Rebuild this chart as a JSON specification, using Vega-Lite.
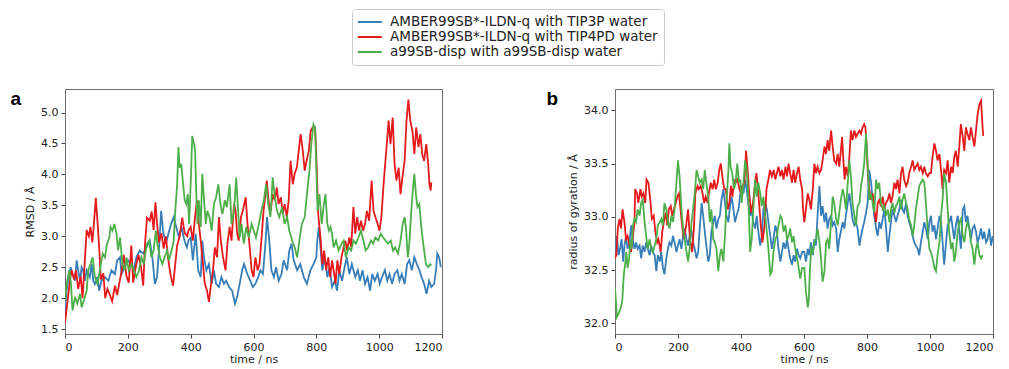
{
"$schema":"https://vega.github.io/schema/vega-lite/v6.json",
"padding":{"left":10,"top":8,"right":5,"bottom":0},
"config":{"font":"DejaVu Sans","view":{"stroke":"#6e6e6e","strokeWidth":1},
"axis":{"grid":false,"domainColor":"#6e6e6e","tickColor":"#444","tickSize":4,"labelFontSize":11,"titleFontSize":11,"labelColor":"#222","titleColor":"#222","titleFontWeight":"normal","labelFont":"DejaVu Sans","titleFont":"DejaVu Sans","labelPadding":3}},
"datasets":{
"rmsd":[
{"s":"T3","t":0,"v":1.80},{"s":"T3","t":5,"v":2.12},{"s":"T3","t":11,"v":2.34},{"s":"T3","t":18,"v":2.50},{"s":"T3","t":24,"v":2.39},{"s":"T3","t":32,"v":2.28},{"s":"T3","t":37,"v":2.61},{"s":"T3","t":42,"v":2.45},{"s":"T3","t":48,"v":2.28},{"s":"T3","t":53,"v":2.50},{"s":"T3","t":58,"v":2.45},{"s":"T3","t":63,"v":2.28},{"s":"T3","t":69,"v":2.45},{"s":"T3","t":79,"v":2.34},{"s":"T3","t":85,"v":2.55},{"s":"T3","t":90,"v":2.28},{"s":"T3","t":95,"v":2.23},{"s":"T3","t":103,"v":2.34},{"s":"T3","t":109,"v":2.12},{"s":"T3","t":116,"v":2.28},{"s":"T3","t":127,"v":2.34},{"s":"T3","t":138,"v":2.28},{"s":"T3","t":148,"v":2.45},{"s":"T3","t":159,"v":2.39},{"s":"T3","t":166,"v":2.61},{"s":"T3","t":175,"v":2.66},{"s":"T3","t":180,"v":2.39},{"s":"T3","t":190,"v":2.50},{"s":"T3","t":201,"v":2.61},{"s":"T3","t":212,"v":2.55},{"s":"T3","t":219,"v":2.45},{"s":"T3","t":227,"v":2.66},{"s":"T3","t":238,"v":2.77},{"s":"T3","t":249,"v":2.72},{"s":"T3","t":259,"v":2.82},{"s":"T3","t":270,"v":2.93},{"s":"T3","t":278,"v":2.66},{"s":"T3","t":286,"v":2.23},{"s":"T3","t":293,"v":2.34},{"s":"T3","t":299,"v":2.77},{"s":"T3","t":306,"v":3.41},{"s":"T3","t":312,"v":3.09},{"s":"T3","t":321,"v":2.88},{"s":"T3","t":329,"v":3.04},{"s":"T3","t":338,"v":3.20},{"s":"T3","t":346,"v":3.31},{"s":"T3","t":354,"v":3.15},{"s":"T3","t":363,"v":2.98},{"s":"T3","t":371,"v":3.15},{"s":"T3","t":380,"v":2.93},{"s":"T3","t":388,"v":2.82},{"s":"T3","t":393,"v":2.93},{"s":"T3","t":400,"v":2.98},{"s":"T3","t":407,"v":2.61},{"s":"T3","t":416,"v":3.04},{"s":"T3","t":424,"v":2.45},{"s":"T3","t":432,"v":2.34},{"s":"T3","t":437,"v":2.93},{"s":"T3","t":442,"v":2.66},{"s":"T3","t":450,"v":2.45},{"s":"T3","t":458,"v":2.55},{"s":"T3","t":467,"v":2.23},{"s":"T3","t":474,"v":2.45},{"s":"T3","t":481,"v":2.23},{"s":"T3","t":490,"v":2.18},{"s":"T3","t":498,"v":2.34},{"s":"T3","t":506,"v":2.23},{"s":"T3","t":513,"v":2.28},{"s":"T3","t":522,"v":2.18},{"s":"T3","t":532,"v":2.12},{"s":"T3","t":541,"v":1.91},{"s":"T3","t":548,"v":2.02},{"s":"T3","t":556,"v":2.23},{"s":"T3","t":564,"v":2.45},{"s":"T3","t":570,"v":2.55},{"s":"T3","t":580,"v":2.39},{"s":"T3","t":590,"v":2.28},{"s":"T3","t":598,"v":2.18},{"s":"T3","t":606,"v":2.23},{"s":"T3","t":615,"v":2.34},{"s":"T3","t":622,"v":2.45},{"s":"T3","t":630,"v":2.39},{"s":"T3","t":638,"v":2.88},{"s":"T3","t":643,"v":3.31},{"s":"T3","t":651,"v":2.88},{"s":"T3","t":657,"v":2.45},{"s":"T3","t":665,"v":2.34},{"s":"T3","t":672,"v":2.50},{"s":"T3","t":680,"v":2.28},{"s":"T3","t":689,"v":2.39},{"s":"T3","t":696,"v":2.61},{"s":"T3","t":707,"v":2.45},{"s":"T3","t":714,"v":2.77},{"s":"T3","t":721,"v":2.88},{"s":"T3","t":728,"v":2.61},{"s":"T3","t":739,"v":2.45},{"s":"T3","t":749,"v":2.55},{"s":"T3","t":760,"v":2.34},{"s":"T3","t":770,"v":2.23},{"s":"T3","t":781,"v":2.45},{"s":"T3","t":791,"v":2.55},{"s":"T3","t":800,"v":2.66},{"s":"T3","t":803,"v":2.93},{"s":"T3","t":808,"v":3.15},{"s":"T3","t":814,"v":2.77},{"s":"T3","t":819,"v":2.45},{"s":"T3","t":827,"v":2.66},{"s":"T3","t":835,"v":2.34},{"s":"T3","t":842,"v":2.50},{"s":"T3","t":850,"v":2.18},{"s":"T3","t":859,"v":2.28},{"s":"T3","t":866,"v":2.12},{"s":"T3","t":873,"v":2.45},{"s":"T3","t":882,"v":2.28},{"s":"T3","t":890,"v":2.50},{"s":"T3","t":897,"v":2.66},{"s":"T3","t":905,"v":2.39},{"s":"T3","t":913,"v":2.55},{"s":"T3","t":924,"v":2.34},{"s":"T3","t":932,"v":2.45},{"s":"T3","t":939,"v":2.28},{"s":"T3","t":947,"v":2.45},{"s":"T3","t":955,"v":2.23},{"s":"T3","t":963,"v":2.34},{"s":"T3","t":971,"v":2.12},{"s":"T3","t":978,"v":2.39},{"s":"T3","t":986,"v":2.28},{"s":"T3","t":995,"v":2.39},{"s":"T3","t":1002,"v":2.23},{"s":"T3","t":1009,"v":2.34},{"s":"T3","t":1018,"v":2.45},{"s":"T3","t":1026,"v":2.28},{"s":"T3","t":1033,"v":2.39},{"s":"T3","t":1041,"v":2.23},{"s":"T3","t":1049,"v":2.39},{"s":"T3","t":1058,"v":2.45},{"s":"T3","t":1065,"v":2.28},{"s":"T3","t":1072,"v":2.39},{"s":"T3","t":1081,"v":2.23},{"s":"T3","t":1089,"v":2.55},{"s":"T3","t":1096,"v":2.61},{"s":"T3","t":1104,"v":2.45},{"s":"T3","t":1112,"v":2.66},{"s":"T3","t":1120,"v":2.55},{"s":"T3","t":1128,"v":2.45},{"s":"T3","t":1135,"v":2.34},{"s":"T3","t":1143,"v":2.23},{"s":"T3","t":1151,"v":2.07},{"s":"T3","t":1159,"v":2.28},{"s":"T3","t":1166,"v":2.18},{"s":"T3","t":1175,"v":2.23},{"s":"T3","t":1181,"v":2.45},{"s":"T3","t":1185,"v":2.72},{"s":"T3","t":1191,"v":2.66},{"s":"T3","t":1196,"v":2.50},
{"s":"T4","t":0,"v":1.60},{"s":"T4","t":7,"v":1.90},{"s":"T4","t":16,"v":2.30},{"s":"T4","t":21,"v":2.45},{"s":"T4","t":29,"v":2.30},{"s":"T4","t":35,"v":2.45},{"s":"T4","t":42,"v":2.15},{"s":"T4","t":50,"v":2.35},{"s":"T4","t":56,"v":2.00},{"s":"T4","t":63,"v":2.60},{"s":"T4","t":69,"v":3.10},{"s":"T4","t":76,"v":3.00},{"s":"T4","t":81,"v":3.15},{"s":"T4","t":87,"v":2.90},{"s":"T4","t":92,"v":3.20},{"s":"T4","t":98,"v":3.62},{"s":"T4","t":104,"v":3.20},{"s":"T4","t":109,"v":2.80},{"s":"T4","t":114,"v":2.30},{"s":"T4","t":122,"v":2.40},{"s":"T4","t":128,"v":2.00},{"s":"T4","t":135,"v":2.15},{"s":"T4","t":143,"v":2.05},{"s":"T4","t":150,"v":1.95},{"s":"T4","t":159,"v":2.20},{"s":"T4","t":166,"v":2.05},{"s":"T4","t":175,"v":2.30},{"s":"T4","t":181,"v":2.45},{"s":"T4","t":187,"v":2.70},{"s":"T4","t":196,"v":2.35},{"s":"T4","t":203,"v":2.25},{"s":"T4","t":211,"v":2.85},{"s":"T4","t":217,"v":2.25},{"s":"T4","t":225,"v":2.50},{"s":"T4","t":234,"v":2.70},{"s":"T4","t":242,"v":2.50},{"s":"T4","t":249,"v":2.20},{"s":"T4","t":255,"v":2.90},{"s":"T4","t":261,"v":3.30},{"s":"T4","t":270,"v":3.25},{"s":"T4","t":276,"v":3.40},{"s":"T4","t":282,"v":3.10},{"s":"T4","t":288,"v":3.55},{"s":"T4","t":293,"v":3.20},{"s":"T4","t":299,"v":2.90},{"s":"T4","t":307,"v":3.05},{"s":"T4","t":314,"v":2.80},{"s":"T4","t":321,"v":3.00},{"s":"T4","t":328,"v":2.65},{"s":"T4","t":335,"v":2.40},{"s":"T4","t":344,"v":2.20},{"s":"T4","t":350,"v":2.50},{"s":"T4","t":357,"v":2.85},{"s":"T4","t":365,"v":3.00},{"s":"T4","t":373,"v":3.30},{"s":"T4","t":381,"v":3.05},{"s":"T4","t":389,"v":3.00},{"s":"T4","t":393,"v":3.09},{"s":"T4","t":400,"v":3.15},{"s":"T4","t":407,"v":2.93},{"s":"T4","t":414,"v":3.31},{"s":"T4","t":420,"v":3.58},{"s":"T4","t":426,"v":3.20},{"s":"T4","t":433,"v":2.88},{"s":"T4","t":439,"v":2.55},{"s":"T4","t":445,"v":2.23},{"s":"T4","t":452,"v":2.12},{"s":"T4","t":458,"v":1.94},{"s":"T4","t":465,"v":2.23},{"s":"T4","t":471,"v":2.45},{"s":"T4","t":477,"v":2.82},{"s":"T4","t":484,"v":2.66},{"s":"T4","t":490,"v":3.31},{"s":"T4","t":496,"v":2.93},{"s":"T4","t":503,"v":2.66},{"s":"T4","t":511,"v":2.45},{"s":"T4","t":517,"v":2.88},{"s":"T4","t":524,"v":3.15},{"s":"T4","t":530,"v":2.93},{"s":"T4","t":538,"v":3.52},{"s":"T4","t":543,"v":3.41},{"s":"T4","t":548,"v":3.04},{"s":"T4","t":553,"v":2.93},{"s":"T4","t":560,"v":3.31},{"s":"T4","t":566,"v":3.41},{"s":"T4","t":575,"v":3.63},{"s":"T4","t":581,"v":3.20},{"s":"T4","t":587,"v":2.88},{"s":"T4","t":594,"v":2.45},{"s":"T4","t":600,"v":2.34},{"s":"T4","t":606,"v":2.66},{"s":"T4","t":613,"v":2.45},{"s":"T4","t":619,"v":2.55},{"s":"T4","t":625,"v":2.93},{"s":"T4","t":632,"v":3.41},{"s":"T4","t":638,"v":3.68},{"s":"T4","t":642,"v":3.90},{"s":"T4","t":649,"v":3.52},{"s":"T4","t":655,"v":3.41},{"s":"T4","t":661,"v":3.68},{"s":"T4","t":668,"v":3.58},{"s":"T4","t":674,"v":3.79},{"s":"T4","t":680,"v":3.52},{"s":"T4","t":687,"v":3.63},{"s":"T4","t":693,"v":3.36},{"s":"T4","t":699,"v":3.52},{"s":"T4","t":706,"v":3.31},{"s":"T4","t":712,"v":3.58},{"s":"T4","t":718,"v":4.22},{"s":"T4","t":725,"v":3.84},{"s":"T4","t":731,"v":4.01},{"s":"T4","t":738,"v":4.11},{"s":"T4","t":744,"v":4.38},{"s":"T4","t":750,"v":4.65},{"s":"T4","t":757,"v":4.38},{"s":"T4","t":763,"v":4.06},{"s":"T4","t":769,"v":4.22},{"s":"T4","t":776,"v":4.38},{"s":"T4","t":782,"v":4.70},{"s":"T4","t":788,"v":4.76},{"s":"T4","t":796,"v":4.76},{"s":"T4","t":800,"v":4.27},{"s":"T4","t":806,"v":3.36},{"s":"T4","t":814,"v":2.93},{"s":"T4","t":819,"v":2.55},{"s":"T4","t":825,"v":2.77},{"s":"T4","t":831,"v":2.45},{"s":"T4","t":838,"v":2.66},{"s":"T4","t":844,"v":2.34},{"s":"T4","t":850,"v":2.61},{"s":"T4","t":857,"v":2.39},{"s":"T4","t":861,"v":2.23},{"s":"T4","t":867,"v":2.61},{"s":"T4","t":873,"v":2.39},{"s":"T4","t":880,"v":2.66},{"s":"T4","t":887,"v":2.82},{"s":"T4","t":892,"v":2.93},{"s":"T4","t":898,"v":2.77},{"s":"T4","t":905,"v":2.98},{"s":"T4","t":911,"v":2.82},{"s":"T4","t":918,"v":3.47},{"s":"T4","t":924,"v":3.04},{"s":"T4","t":930,"v":3.31},{"s":"T4","t":936,"v":3.09},{"s":"T4","t":942,"v":3.25},{"s":"T4","t":949,"v":3.09},{"s":"T4","t":955,"v":3.20},{"s":"T4","t":961,"v":3.41},{"s":"T4","t":968,"v":3.25},{"s":"T4","t":976,"v":3.90},{"s":"T4","t":982,"v":3.41},{"s":"T4","t":988,"v":3.31},{"s":"T4","t":995,"v":3.20},{"s":"T4","t":1001,"v":3.09},{"s":"T4","t":1007,"v":3.31},{"s":"T4","t":1014,"v":3.84},{"s":"T4","t":1020,"v":4.22},{"s":"T4","t":1026,"v":4.60},{"s":"T4","t":1030,"v":4.87},{"s":"T4","t":1036,"v":4.49},{"s":"T4","t":1043,"v":4.92},{"s":"T4","t":1049,"v":4.17},{"s":"T4","t":1055,"v":3.90},{"s":"T4","t":1062,"v":4.11},{"s":"T4","t":1068,"v":3.68},{"s":"T4","t":1074,"v":3.95},{"s":"T4","t":1081,"v":4.22},{"s":"T4","t":1087,"v":4.87},{"s":"T4","t":1093,"v":5.21},{"s":"T4","t":1099,"v":4.87},{"s":"T4","t":1106,"v":4.70},{"s":"T4","t":1112,"v":4.33},{"s":"T4","t":1118,"v":4.76},{"s":"T4","t":1125,"v":4.44},{"s":"T4","t":1131,"v":4.65},{"s":"T4","t":1137,"v":4.33},{"s":"T4","t":1143,"v":4.22},{"s":"T4","t":1150,"v":4.49},{"s":"T4","t":1156,"v":4.17},{"s":"T4","t":1160,"v":3.84},{"s":"T4","t":1164,"v":3.74},{"s":"T4","t":1166,"v":3.87},
{"s":"D","t":0,"v":1.96},{"s":"D","t":5,"v":2.23},{"s":"D","t":14,"v":2.45},{"s":"D","t":19,"v":2.23},{"s":"D","t":24,"v":1.80},{"s":"D","t":32,"v":2.02},{"s":"D","t":39,"v":1.91},{"s":"D","t":48,"v":2.07},{"s":"D","t":53,"v":1.85},{"s":"D","t":60,"v":1.96},{"s":"D","t":69,"v":2.12},{"s":"D","t":74,"v":2.45},{"s":"D","t":81,"v":2.55},{"s":"D","t":88,"v":2.66},{"s":"D","t":95,"v":2.34},{"s":"D","t":103,"v":2.23},{"s":"D","t":111,"v":2.45},{"s":"D","t":120,"v":2.72},{"s":"D","t":127,"v":2.66},{"s":"D","t":134,"v":2.88},{"s":"D","t":141,"v":2.98},{"s":"D","t":145,"v":3.15},{"s":"D","t":151,"v":3.09},{"s":"D","t":157,"v":3.20},{"s":"D","t":164,"v":3.04},{"s":"D","t":169,"v":2.77},{"s":"D","t":175,"v":2.98},{"s":"D","t":183,"v":2.55},{"s":"D","t":190,"v":2.45},{"s":"D","t":196,"v":2.66},{"s":"D","t":203,"v":2.45},{"s":"D","t":212,"v":2.55},{"s":"D","t":219,"v":2.45},{"s":"D","t":227,"v":2.34},{"s":"D","t":236,"v":2.45},{"s":"D","t":243,"v":2.66},{"s":"D","t":251,"v":2.55},{"s":"D","t":257,"v":2.77},{"s":"D","t":261,"v":2.88},{"s":"D","t":268,"v":2.93},{"s":"D","t":275,"v":2.66},{"s":"D","t":282,"v":2.77},{"s":"D","t":289,"v":3.09},{"s":"D","t":294,"v":2.88},{"s":"D","t":302,"v":2.66},{"s":"D","t":310,"v":2.55},{"s":"D","t":317,"v":2.66},{"s":"D","t":325,"v":2.77},{"s":"D","t":331,"v":2.61},{"s":"D","t":339,"v":2.77},{"s":"D","t":346,"v":2.93},{"s":"D","t":351,"v":3.41},{"s":"D","t":357,"v":3.84},{"s":"D","t":361,"v":4.44},{"s":"D","t":365,"v":4.11},{"s":"D","t":370,"v":4.17},{"s":"D","t":376,"v":3.84},{"s":"D","t":381,"v":3.58},{"s":"D","t":386,"v":3.52},{"s":"D","t":391,"v":3.68},{"s":"D","t":395,"v":3.20},{"s":"D","t":400,"v":3.84},{"s":"D","t":405,"v":4.62},{"s":"D","t":411,"v":4.49},{"s":"D","t":414,"v":4.38},{"s":"D","t":418,"v":3.68},{"s":"D","t":422,"v":3.20},{"s":"D","t":426,"v":3.58},{"s":"D","t":432,"v":3.15},{"s":"D","t":437,"v":4.01},{"s":"D","t":442,"v":3.63},{"s":"D","t":448,"v":3.20},{"s":"D","t":453,"v":3.41},{"s":"D","t":460,"v":3.31},{"s":"D","t":467,"v":3.09},{"s":"D","t":474,"v":3.52},{"s":"D","t":481,"v":3.63},{"s":"D","t":488,"v":3.84},{"s":"D","t":495,"v":3.52},{"s":"D","t":501,"v":3.36},{"s":"D","t":509,"v":3.58},{"s":"D","t":515,"v":3.47},{"s":"D","t":524,"v":3.84},{"s":"D","t":530,"v":3.20},{"s":"D","t":538,"v":3.41},{"s":"D","t":545,"v":3.95},{"s":"D","t":551,"v":3.41},{"s":"D","t":556,"v":2.98},{"s":"D","t":562,"v":3.20},{"s":"D","t":569,"v":2.88},{"s":"D","t":577,"v":3.15},{"s":"D","t":585,"v":2.98},{"s":"D","t":594,"v":3.20},{"s":"D","t":601,"v":3.09},{"s":"D","t":608,"v":2.98},{"s":"D","t":617,"v":3.20},{"s":"D","t":625,"v":3.41},{"s":"D","t":633,"v":3.58},{"s":"D","t":640,"v":3.84},{"s":"D","t":647,"v":3.52},{"s":"D","t":654,"v":3.31},{"s":"D","t":661,"v":3.95},{"s":"D","t":668,"v":3.63},{"s":"D","t":675,"v":3.41},{"s":"D","t":682,"v":3.31},{"s":"D","t":691,"v":3.47},{"s":"D","t":699,"v":3.20},{"s":"D","t":707,"v":3.31},{"s":"D","t":714,"v":3.09},{"s":"D","t":723,"v":2.93},{"s":"D","t":731,"v":2.82},{"s":"D","t":739,"v":2.66},{"s":"D","t":746,"v":2.93},{"s":"D","t":754,"v":3.20},{"s":"D","t":763,"v":3.31},{"s":"D","t":770,"v":3.68},{"s":"D","t":778,"v":4.06},{"s":"D","t":784,"v":4.49},{"s":"D","t":791,"v":4.81},{"s":"D","t":796,"v":4.76},{"s":"D","t":800,"v":4.11},{"s":"D","t":804,"v":3.41},{"s":"D","t":810,"v":3.68},{"s":"D","t":817,"v":3.20},{"s":"D","t":824,"v":3.52},{"s":"D","t":829,"v":3.68},{"s":"D","t":835,"v":3.20},{"s":"D","t":840,"v":3.09},{"s":"D","t":845,"v":3.15},{"s":"D","t":850,"v":3.04},{"s":"D","t":855,"v":2.82},{"s":"D","t":863,"v":2.93},{"s":"D","t":871,"v":2.77},{"s":"D","t":880,"v":2.88},{"s":"D","t":887,"v":2.93},{"s":"D","t":894,"v":2.66},{"s":"D","t":903,"v":2.82},{"s":"D","t":911,"v":2.77},{"s":"D","t":918,"v":2.93},{"s":"D","t":926,"v":2.88},{"s":"D","t":934,"v":2.98},{"s":"D","t":942,"v":3.09},{"s":"D","t":950,"v":2.93},{"s":"D","t":957,"v":2.77},{"s":"D","t":965,"v":2.82},{"s":"D","t":974,"v":2.93},{"s":"D","t":981,"v":2.88},{"s":"D","t":988,"v":2.98},{"s":"D","t":997,"v":2.93},{"s":"D","t":1005,"v":3.04},{"s":"D","t":1013,"v":2.98},{"s":"D","t":1020,"v":2.93},{"s":"D","t":1028,"v":2.88},{"s":"D","t":1037,"v":2.93},{"s":"D","t":1044,"v":2.77},{"s":"D","t":1051,"v":2.82},{"s":"D","t":1060,"v":2.72},{"s":"D","t":1068,"v":2.93},{"s":"D","t":1075,"v":3.20},{"s":"D","t":1081,"v":3.31},{"s":"D","t":1086,"v":3.09},{"s":"D","t":1091,"v":2.66},{"s":"D","t":1096,"v":2.88},{"s":"D","t":1101,"v":3.31},{"s":"D","t":1107,"v":3.74},{"s":"D","t":1112,"v":4.01},{"s":"D","t":1117,"v":3.68},{"s":"D","t":1122,"v":3.47},{"s":"D","t":1128,"v":3.52},{"s":"D","t":1133,"v":3.20},{"s":"D","t":1138,"v":2.98},{"s":"D","t":1143,"v":2.77},{"s":"D","t":1149,"v":2.55},{"s":"D","t":1156,"v":2.50},{"s":"D","t":1162,"v":2.55},{"s":"D","t":1166,"v":2.53}
],
"rg":[
{"s":"T3","t":0,"v":32.67},{"s":"T3","t":6,"v":32.82},{"s":"T3","t":11,"v":32.64},{"s":"T3","t":16,"v":32.70},{"s":"T3","t":21,"v":32.79},{"s":"T3","t":26,"v":32.58},{"s":"T3","t":30,"v":32.73},{"s":"T3","t":35,"v":32.82},{"s":"T3","t":40,"v":32.70},{"s":"T3","t":46,"v":32.76},{"s":"T3","t":51,"v":32.92},{"s":"T3","t":56,"v":32.79},{"s":"T3","t":62,"v":32.70},{"s":"T3","t":67,"v":32.76},{"s":"T3","t":72,"v":32.70},{"s":"T3","t":78,"v":32.73},{"s":"T3","t":83,"v":32.61},{"s":"T3","t":88,"v":32.73},{"s":"T3","t":94,"v":32.67},{"s":"T3","t":99,"v":32.76},{"s":"T3","t":104,"v":32.70},{"s":"T3","t":110,"v":32.64},{"s":"T3","t":115,"v":32.73},{"s":"T3","t":120,"v":32.67},{"s":"T3","t":126,"v":32.64},{"s":"T3","t":131,"v":32.49},{"s":"T3","t":136,"v":32.64},{"s":"T3","t":142,"v":32.58},{"s":"T3","t":147,"v":32.67},{"s":"T3","t":152,"v":32.52},{"s":"T3","t":157,"v":32.46},{"s":"T3","t":163,"v":32.61},{"s":"T3","t":168,"v":32.70},{"s":"T3","t":173,"v":32.76},{"s":"T3","t":179,"v":32.73},{"s":"T3","t":184,"v":32.82},{"s":"T3","t":189,"v":32.76},{"s":"T3","t":195,"v":32.67},{"s":"T3","t":200,"v":32.73},{"s":"T3","t":205,"v":32.79},{"s":"T3","t":211,"v":32.70},{"s":"T3","t":216,"v":32.82},{"s":"T3","t":221,"v":32.89},{"s":"T3","t":227,"v":32.79},{"s":"T3","t":232,"v":32.73},{"s":"T3","t":237,"v":32.82},{"s":"T3","t":243,"v":32.86},{"s":"T3","t":248,"v":32.76},{"s":"T3","t":253,"v":32.70},{"s":"T3","t":259,"v":32.61},{"s":"T3","t":264,"v":32.67},{"s":"T3","t":269,"v":32.89},{"s":"T3","t":275,"v":33.13},{"s":"T3","t":280,"v":33.01},{"s":"T3","t":285,"v":32.86},{"s":"T3","t":290,"v":32.73},{"s":"T3","t":296,"v":32.58},{"s":"T3","t":301,"v":32.64},{"s":"T3","t":306,"v":32.86},{"s":"T3","t":312,"v":32.95},{"s":"T3","t":317,"v":33.01},{"s":"T3","t":322,"v":32.89},{"s":"T3","t":328,"v":32.98},{"s":"T3","t":333,"v":33.01},{"s":"T3","t":338,"v":33.16},{"s":"T3","t":344,"v":33.26},{"s":"T3","t":349,"v":33.13},{"s":"T3","t":354,"v":33.01},{"s":"T3","t":360,"v":32.95},{"s":"T3","t":365,"v":33.10},{"s":"T3","t":370,"v":33.19},{"s":"T3","t":376,"v":33.07},{"s":"T3","t":381,"v":32.95},{"s":"T3","t":386,"v":33.01},{"s":"T3","t":392,"v":33.07},{"s":"T3","t":397,"v":33.19},{"s":"T3","t":402,"v":33.29},{"s":"T3","t":408,"v":33.22},{"s":"T3","t":413,"v":33.35},{"s":"T3","t":418,"v":33.26},{"s":"T3","t":423,"v":33.13},{"s":"T3","t":429,"v":33.01},{"s":"T3","t":434,"v":33.07},{"s":"T3","t":439,"v":32.95},{"s":"T3","t":445,"v":32.89},{"s":"T3","t":450,"v":33.01},{"s":"T3","t":455,"v":32.86},{"s":"T3","t":461,"v":32.73},{"s":"T3","t":466,"v":32.82},{"s":"T3","t":471,"v":33.07},{"s":"T3","t":477,"v":33.13},{"s":"T3","t":482,"v":33.07},{"s":"T3","t":487,"v":32.95},{"s":"T3","t":493,"v":32.82},{"s":"T3","t":498,"v":32.70},{"s":"T3","t":503,"v":32.79},{"s":"T3","t":509,"v":32.92},{"s":"T3","t":514,"v":32.86},{"s":"T3","t":519,"v":32.70},{"s":"T3","t":525,"v":32.58},{"s":"T3","t":530,"v":32.67},{"s":"T3","t":535,"v":32.76},{"s":"T3","t":541,"v":32.70},{"s":"T3","t":546,"v":32.79},{"s":"T3","t":551,"v":32.70},{"s":"T3","t":556,"v":32.61},{"s":"T3","t":562,"v":32.55},{"s":"T3","t":567,"v":32.64},{"s":"T3","t":572,"v":32.58},{"s":"T3","t":578,"v":32.70},{"s":"T3","t":583,"v":32.64},{"s":"T3","t":588,"v":32.61},{"s":"T3","t":594,"v":32.67},{"s":"T3","t":601,"v":32.67},{"s":"T3","t":606,"v":32.58},{"s":"T3","t":612,"v":32.70},{"s":"T3","t":617,"v":32.64},{"s":"T3","t":622,"v":32.76},{"s":"T3","t":628,"v":32.64},{"s":"T3","t":633,"v":32.79},{"s":"T3","t":638,"v":32.73},{"s":"T3","t":643,"v":33.01},{"s":"T3","t":649,"v":33.29},{"s":"T3","t":654,"v":33.01},{"s":"T3","t":659,"v":33.10},{"s":"T3","t":665,"v":32.95},{"s":"T3","t":670,"v":33.04},{"s":"T3","t":675,"v":32.89},{"s":"T3","t":680,"v":32.98},{"s":"T3","t":686,"v":33.01},{"s":"T3","t":691,"v":32.92},{"s":"T3","t":696,"v":32.95},{"s":"T3","t":702,"v":32.89},{"s":"T3","t":707,"v":32.67},{"s":"T3","t":712,"v":32.79},{"s":"T3","t":717,"v":32.86},{"s":"T3","t":723,"v":32.95},{"s":"T3","t":728,"v":32.89},{"s":"T3","t":733,"v":33.01},{"s":"T3","t":739,"v":33.13},{"s":"T3","t":744,"v":33.22},{"s":"T3","t":749,"v":33.10},{"s":"T3","t":754,"v":32.98},{"s":"T3","t":760,"v":32.92},{"s":"T3","t":765,"v":32.95},{"s":"T3","t":770,"v":32.89},{"s":"T3","t":776,"v":32.73},{"s":"T3","t":781,"v":32.82},{"s":"T3","t":786,"v":32.89},{"s":"T3","t":791,"v":32.95},{"s":"T3","t":797,"v":33.04},{"s":"T3","t":802,"v":33.13},{"s":"T3","t":807,"v":33.44},{"s":"T3","t":813,"v":33.32},{"s":"T3","t":818,"v":33.16},{"s":"T3","t":823,"v":33.01},{"s":"T3","t":829,"v":32.89},{"s":"T3","t":834,"v":32.82},{"s":"T3","t":839,"v":32.95},{"s":"T3","t":844,"v":32.89},{"s":"T3","t":850,"v":32.98},{"s":"T3","t":855,"v":33.07},{"s":"T3","t":860,"v":32.92},{"s":"T3","t":866,"v":32.67},{"s":"T3","t":871,"v":32.82},{"s":"T3","t":876,"v":32.95},{"s":"T3","t":881,"v":33.07},{"s":"T3","t":887,"v":33.01},{"s":"T3","t":892,"v":32.95},{"s":"T3","t":897,"v":33.01},{"s":"T3","t":903,"v":33.07},{"s":"T3","t":908,"v":33.16},{"s":"T3","t":913,"v":33.07},{"s":"T3","t":918,"v":33.04},{"s":"T3","t":924,"v":33.13},{"s":"T3","t":929,"v":33.01},{"s":"T3","t":934,"v":32.95},{"s":"T3","t":940,"v":32.89},{"s":"T3","t":945,"v":32.82},{"s":"T3","t":950,"v":32.76},{"s":"T3","t":955,"v":32.73},{"s":"T3","t":961,"v":32.70},{"s":"T3","t":966,"v":32.64},{"s":"T3","t":971,"v":32.76},{"s":"T3","t":977,"v":32.86},{"s":"T3","t":982,"v":32.95},{"s":"T3","t":987,"v":32.89},{"s":"T3","t":993,"v":32.79},{"s":"T3","t":998,"v":32.95},{"s":"T3","t":1003,"v":33.01},{"s":"T3","t":1008,"v":32.86},{"s":"T3","t":1014,"v":32.92},{"s":"T3","t":1019,"v":32.79},{"s":"T3","t":1024,"v":32.89},{"s":"T3","t":1030,"v":33.01},{"s":"T3","t":1035,"v":32.95},{"s":"T3","t":1040,"v":32.76},{"s":"T3","t":1045,"v":32.55},{"s":"T3","t":1051,"v":32.76},{"s":"T3","t":1056,"v":32.92},{"s":"T3","t":1061,"v":32.95},{"s":"T3","t":1067,"v":33.01},{"s":"T3","t":1072,"v":32.89},{"s":"T3","t":1077,"v":32.79},{"s":"T3","t":1082,"v":32.92},{"s":"T3","t":1088,"v":33.01},{"s":"T3","t":1093,"v":32.86},{"s":"T3","t":1098,"v":32.70},{"s":"T3","t":1104,"v":33.07},{"s":"T3","t":1109,"v":33.10},{"s":"T3","t":1114,"v":32.95},{"s":"T3","t":1119,"v":33.01},{"s":"T3","t":1125,"v":32.89},{"s":"T3","t":1130,"v":32.79},{"s":"T3","t":1135,"v":32.89},{"s":"T3","t":1141,"v":32.92},{"s":"T3","t":1146,"v":32.86},{"s":"T3","t":1151,"v":32.76},{"s":"T3","t":1157,"v":32.82},{"s":"T3","t":1162,"v":32.89},{"s":"T3","t":1167,"v":32.79},{"s":"T3","t":1172,"v":32.86},{"s":"T3","t":1178,"v":32.76},{"s":"T3","t":1183,"v":32.79},{"s":"T3","t":1188,"v":32.89},{"s":"T3","t":1194,"v":32.73},{"s":"T3","t":1199,"v":32.82},
{"s":"T4","t":0,"v":32.61},{"s":"T4","t":4,"v":32.64},{"s":"T4","t":9,"v":32.89},{"s":"T4","t":14,"v":32.98},{"s":"T4","t":19,"v":32.89},{"s":"T4","t":24,"v":33.07},{"s":"T4","t":30,"v":32.95},{"s":"T4","t":35,"v":32.79},{"s":"T4","t":40,"v":32.82},{"s":"T4","t":46,"v":32.73},{"s":"T4","t":51,"v":32.67},{"s":"T4","t":56,"v":32.79},{"s":"T4","t":62,"v":32.95},{"s":"T4","t":64,"v":33.26},{"s":"T4","t":70,"v":33.22},{"s":"T4","t":74,"v":33.13},{"s":"T4","t":81,"v":33.26},{"s":"T4","t":85,"v":33.19},{"s":"T4","t":90,"v":33.22},{"s":"T4","t":96,"v":33.13},{"s":"T4","t":100,"v":33.35},{"s":"T4","t":106,"v":33.32},{"s":"T4","t":113,"v":33.13},{"s":"T4","t":117,"v":32.98},{"s":"T4","t":123,"v":33.01},{"s":"T4","t":128,"v":32.86},{"s":"T4","t":134,"v":32.76},{"s":"T4","t":138,"v":32.79},{"s":"T4","t":145,"v":32.67},{"s":"T4","t":150,"v":32.86},{"s":"T4","t":155,"v":32.95},{"s":"T4","t":161,"v":33.04},{"s":"T4","t":166,"v":32.92},{"s":"T4","t":171,"v":33.07},{"s":"T4","t":177,"v":33.10},{"s":"T4","t":182,"v":33.01},{"s":"T4","t":187,"v":33.07},{"s":"T4","t":193,"v":33.13},{"s":"T4","t":198,"v":33.19},{"s":"T4","t":203,"v":33.22},{"s":"T4","t":209,"v":33.04},{"s":"T4","t":214,"v":32.89},{"s":"T4","t":219,"v":32.79},{"s":"T4","t":226,"v":32.92},{"s":"T4","t":232,"v":33.07},{"s":"T4","t":238,"v":32.79},{"s":"T4","t":245,"v":32.67},{"s":"T4","t":251,"v":32.92},{"s":"T4","t":255,"v":33.22},{"s":"T4","t":262,"v":33.29},{"s":"T4","t":266,"v":33.26},{"s":"T4","t":272,"v":33.29},{"s":"T4","t":278,"v":33.22},{"s":"T4","t":283,"v":33.13},{"s":"T4","t":288,"v":33.19},{"s":"T4","t":294,"v":33.13},{"s":"T4","t":298,"v":33.22},{"s":"T4","t":304,"v":33.32},{"s":"T4","t":310,"v":33.26},{"s":"T4","t":315,"v":33.35},{"s":"T4","t":320,"v":33.26},{"s":"T4","t":326,"v":33.32},{"s":"T4","t":331,"v":33.44},{"s":"T4","t":336,"v":33.50},{"s":"T4","t":342,"v":33.35},{"s":"T4","t":347,"v":33.26},{"s":"T4","t":352,"v":33.26},{"s":"T4","t":358,"v":33.07},{"s":"T4","t":363,"v":33.13},{"s":"T4","t":368,"v":33.29},{"s":"T4","t":373,"v":33.19},{"s":"T4","t":379,"v":33.35},{"s":"T4","t":383,"v":33.32},{"s":"T4","t":389,"v":33.35},{"s":"T4","t":395,"v":33.26},{"s":"T4","t":400,"v":33.22},{"s":"T4","t":405,"v":33.29},{"s":"T4","t":411,"v":33.32},{"s":"T4","t":416,"v":33.62},{"s":"T4","t":421,"v":33.44},{"s":"T4","t":426,"v":33.22},{"s":"T4","t":432,"v":33.04},{"s":"T4","t":438,"v":33.13},{"s":"T4","t":445,"v":33.32},{"s":"T4","t":449,"v":33.41},{"s":"T4","t":455,"v":33.22},{"s":"T4","t":462,"v":32.95},{"s":"T4","t":468,"v":32.76},{"s":"T4","t":475,"v":32.92},{"s":"T4","t":481,"v":33.26},{"s":"T4","t":487,"v":33.35},{"s":"T4","t":492,"v":33.44},{"s":"T4","t":498,"v":33.38},{"s":"T4","t":504,"v":33.44},{"s":"T4","t":509,"v":33.35},{"s":"T4","t":514,"v":33.41},{"s":"T4","t":519,"v":33.47},{"s":"T4","t":525,"v":33.38},{"s":"T4","t":530,"v":33.44},{"s":"T4","t":535,"v":33.35},{"s":"T4","t":541,"v":33.47},{"s":"T4","t":546,"v":33.38},{"s":"T4","t":551,"v":33.50},{"s":"T4","t":556,"v":33.41},{"s":"T4","t":562,"v":33.32},{"s":"T4","t":567,"v":33.44},{"s":"T4","t":572,"v":33.32},{"s":"T4","t":578,"v":33.41},{"s":"T4","t":583,"v":33.47},{"s":"T4","t":588,"v":33.35},{"s":"T4","t":594,"v":33.26},{"s":"T4","t":597,"v":33.07},{"s":"T4","t":601,"v":32.95},{"s":"T4","t":606,"v":33.07},{"s":"T4","t":612,"v":33.22},{"s":"T4","t":617,"v":33.16},{"s":"T4","t":622,"v":33.07},{"s":"T4","t":628,"v":33.26},{"s":"T4","t":633,"v":33.50},{"s":"T4","t":638,"v":33.41},{"s":"T4","t":643,"v":33.47},{"s":"T4","t":649,"v":33.41},{"s":"T4","t":654,"v":33.44},{"s":"T4","t":659,"v":33.53},{"s":"T4","t":665,"v":33.66},{"s":"T4","t":670,"v":33.59},{"s":"T4","t":675,"v":33.72},{"s":"T4","t":680,"v":33.62},{"s":"T4","t":686,"v":33.81},{"s":"T4","t":691,"v":33.66},{"s":"T4","t":696,"v":33.53},{"s":"T4","t":702,"v":33.50},{"s":"T4","t":707,"v":33.59},{"s":"T4","t":712,"v":33.47},{"s":"T4","t":717,"v":33.62},{"s":"T4","t":721,"v":33.75},{"s":"T4","t":725,"v":33.53},{"s":"T4","t":729,"v":33.35},{"s":"T4","t":733,"v":33.47},{"s":"T4","t":739,"v":33.38},{"s":"T4","t":744,"v":33.56},{"s":"T4","t":749,"v":33.81},{"s":"T4","t":754,"v":33.72},{"s":"T4","t":760,"v":33.81},{"s":"T4","t":765,"v":33.75},{"s":"T4","t":770,"v":33.78},{"s":"T4","t":776,"v":33.81},{"s":"T4","t":781,"v":33.78},{"s":"T4","t":786,"v":33.84},{"s":"T4","t":791,"v":33.87},{"s":"T4","t":795,"v":33.84},{"s":"T4","t":799,"v":33.66},{"s":"T4","t":803,"v":33.38},{"s":"T4","t":807,"v":33.26},{"s":"T4","t":813,"v":33.16},{"s":"T4","t":818,"v":33.22},{"s":"T4","t":823,"v":33.07},{"s":"T4","t":829,"v":32.95},{"s":"T4","t":834,"v":33.13},{"s":"T4","t":839,"v":33.16},{"s":"T4","t":844,"v":33.10},{"s":"T4","t":850,"v":33.19},{"s":"T4","t":855,"v":33.07},{"s":"T4","t":860,"v":33.13},{"s":"T4","t":866,"v":33.16},{"s":"T4","t":871,"v":33.22},{"s":"T4","t":876,"v":33.13},{"s":"T4","t":881,"v":33.19},{"s":"T4","t":887,"v":33.32},{"s":"T4","t":892,"v":33.26},{"s":"T4","t":897,"v":33.35},{"s":"T4","t":903,"v":33.22},{"s":"T4","t":908,"v":33.41},{"s":"T4","t":913,"v":33.47},{"s":"T4","t":918,"v":33.35},{"s":"T4","t":924,"v":33.29},{"s":"T4","t":929,"v":33.32},{"s":"T4","t":934,"v":33.41},{"s":"T4","t":940,"v":33.47},{"s":"T4","t":945,"v":33.53},{"s":"T4","t":950,"v":33.44},{"s":"T4","t":955,"v":33.47},{"s":"T4","t":961,"v":33.50},{"s":"T4","t":966,"v":33.44},{"s":"T4","t":971,"v":33.47},{"s":"T4","t":977,"v":33.41},{"s":"T4","t":982,"v":33.47},{"s":"T4","t":987,"v":33.41},{"s":"T4","t":993,"v":33.38},{"s":"T4","t":998,"v":33.41},{"s":"T4","t":1003,"v":33.41},{"s":"T4","t":1008,"v":33.56},{"s":"T4","t":1014,"v":33.69},{"s":"T4","t":1019,"v":33.62},{"s":"T4","t":1024,"v":33.53},{"s":"T4","t":1030,"v":33.59},{"s":"T4","t":1035,"v":33.44},{"s":"T4","t":1040,"v":33.26},{"s":"T4","t":1045,"v":33.44},{"s":"T4","t":1051,"v":33.41},{"s":"T4","t":1056,"v":33.53},{"s":"T4","t":1061,"v":33.32},{"s":"T4","t":1067,"v":33.47},{"s":"T4","t":1072,"v":33.41},{"s":"T4","t":1077,"v":33.56},{"s":"T4","t":1082,"v":33.62},{"s":"T4","t":1088,"v":33.47},{"s":"T4","t":1093,"v":33.66},{"s":"T4","t":1098,"v":33.87},{"s":"T4","t":1104,"v":33.75},{"s":"T4","t":1109,"v":33.62},{"s":"T4","t":1114,"v":33.84},{"s":"T4","t":1119,"v":33.78},{"s":"T4","t":1125,"v":33.72},{"s":"T4","t":1130,"v":33.84},{"s":"T4","t":1135,"v":33.75},{"s":"T4","t":1141,"v":33.66},{"s":"T4","t":1146,"v":33.81},{"s":"T4","t":1151,"v":33.96},{"s":"T4","t":1157,"v":34.06},{"s":"T4","t":1162,"v":34.09},{"s":"T4","t":1167,"v":33.84},{"s":"T4","t":1169,"v":33.76},
{"s":"D","t":0,"v":32.33},{"s":"D","t":3,"v":32.21},{"s":"D","t":6,"v":32.06},{"s":"D","t":11,"v":32.09},{"s":"D","t":15,"v":32.12},{"s":"D","t":19,"v":32.15},{"s":"D","t":23,"v":32.21},{"s":"D","t":28,"v":32.46},{"s":"D","t":32,"v":32.55},{"s":"D","t":36,"v":32.67},{"s":"D","t":40,"v":32.52},{"s":"D","t":45,"v":32.61},{"s":"D","t":49,"v":32.79},{"s":"D","t":53,"v":32.70},{"s":"D","t":57,"v":32.92},{"s":"D","t":62,"v":32.98},{"s":"D","t":67,"v":32.95},{"s":"D","t":72,"v":33.07},{"s":"D","t":78,"v":33.01},{"s":"D","t":83,"v":33.13},{"s":"D","t":88,"v":33.16},{"s":"D","t":94,"v":32.95},{"s":"D","t":99,"v":32.82},{"s":"D","t":104,"v":32.70},{"s":"D","t":110,"v":32.79},{"s":"D","t":115,"v":32.70},{"s":"D","t":120,"v":32.67},{"s":"D","t":126,"v":32.73},{"s":"D","t":131,"v":32.79},{"s":"D","t":136,"v":32.92},{"s":"D","t":142,"v":32.95},{"s":"D","t":147,"v":32.98},{"s":"D","t":152,"v":32.92},{"s":"D","t":157,"v":33.13},{"s":"D","t":163,"v":33.07},{"s":"D","t":168,"v":32.95},{"s":"D","t":173,"v":32.89},{"s":"D","t":179,"v":33.01},{"s":"D","t":184,"v":32.95},{"s":"D","t":189,"v":33.07},{"s":"D","t":195,"v":33.32},{"s":"D","t":200,"v":33.53},{"s":"D","t":205,"v":33.38},{"s":"D","t":211,"v":33.07},{"s":"D","t":216,"v":32.89},{"s":"D","t":221,"v":32.79},{"s":"D","t":227,"v":32.67},{"s":"D","t":232,"v":32.58},{"s":"D","t":237,"v":32.70},{"s":"D","t":243,"v":32.95},{"s":"D","t":248,"v":33.07},{"s":"D","t":253,"v":33.22},{"s":"D","t":259,"v":33.44},{"s":"D","t":264,"v":33.38},{"s":"D","t":269,"v":33.32},{"s":"D","t":275,"v":33.35},{"s":"D","t":280,"v":33.26},{"s":"D","t":285,"v":33.44},{"s":"D","t":290,"v":33.32},{"s":"D","t":296,"v":33.19},{"s":"D","t":301,"v":32.95},{"s":"D","t":306,"v":33.07},{"s":"D","t":312,"v":32.79},{"s":"D","t":317,"v":32.76},{"s":"D","t":322,"v":32.70},{"s":"D","t":328,"v":32.49},{"s":"D","t":333,"v":32.64},{"s":"D","t":338,"v":32.70},{"s":"D","t":344,"v":32.58},{"s":"D","t":349,"v":32.82},{"s":"D","t":354,"v":33.13},{"s":"D","t":360,"v":33.44},{"s":"D","t":363,"v":33.69},{"s":"D","t":367,"v":33.47},{"s":"D","t":372,"v":33.41},{"s":"D","t":378,"v":33.26},{"s":"D","t":383,"v":33.32},{"s":"D","t":388,"v":33.50},{"s":"D","t":394,"v":33.32},{"s":"D","t":398,"v":33.35},{"s":"D","t":402,"v":33.13},{"s":"D","t":408,"v":33.32},{"s":"D","t":413,"v":33.53},{"s":"D","t":418,"v":33.44},{"s":"D","t":423,"v":33.22},{"s":"D","t":429,"v":32.67},{"s":"D","t":434,"v":32.79},{"s":"D","t":439,"v":33.07},{"s":"D","t":445,"v":33.35},{"s":"D","t":450,"v":33.19},{"s":"D","t":455,"v":33.32},{"s":"D","t":461,"v":33.22},{"s":"D","t":466,"v":33.10},{"s":"D","t":471,"v":33.19},{"s":"D","t":477,"v":33.01},{"s":"D","t":482,"v":32.86},{"s":"D","t":487,"v":32.70},{"s":"D","t":493,"v":32.46},{"s":"D","t":498,"v":32.49},{"s":"D","t":503,"v":32.67},{"s":"D","t":509,"v":32.79},{"s":"D","t":514,"v":32.82},{"s":"D","t":519,"v":32.92},{"s":"D","t":525,"v":33.01},{"s":"D","t":530,"v":32.98},{"s":"D","t":535,"v":32.86},{"s":"D","t":541,"v":32.92},{"s":"D","t":546,"v":32.79},{"s":"D","t":551,"v":32.82},{"s":"D","t":556,"v":32.89},{"s":"D","t":562,"v":32.76},{"s":"D","t":567,"v":32.82},{"s":"D","t":572,"v":32.70},{"s":"D","t":578,"v":32.61},{"s":"D","t":583,"v":32.52},{"s":"D","t":588,"v":32.42},{"s":"D","t":594,"v":32.52},{"s":"D","t":601,"v":32.52},{"s":"D","t":606,"v":32.30},{"s":"D","t":612,"v":32.15},{"s":"D","t":615,"v":32.21},{"s":"D","t":619,"v":32.52},{"s":"D","t":623,"v":32.70},{"s":"D","t":628,"v":32.67},{"s":"D","t":633,"v":32.76},{"s":"D","t":638,"v":32.79},{"s":"D","t":643,"v":32.89},{"s":"D","t":649,"v":32.76},{"s":"D","t":654,"v":32.61},{"s":"D","t":659,"v":32.39},{"s":"D","t":665,"v":32.49},{"s":"D","t":670,"v":32.76},{"s":"D","t":675,"v":32.79},{"s":"D","t":680,"v":32.70},{"s":"D","t":686,"v":32.95},{"s":"D","t":691,"v":33.19},{"s":"D","t":696,"v":33.13},{"s":"D","t":702,"v":32.98},{"s":"D","t":707,"v":32.92},{"s":"D","t":712,"v":33.04},{"s":"D","t":717,"v":33.16},{"s":"D","t":723,"v":33.26},{"s":"D","t":728,"v":33.19},{"s":"D","t":733,"v":33.07},{"s":"D","t":739,"v":33.32},{"s":"D","t":744,"v":33.53},{"s":"D","t":749,"v":33.38},{"s":"D","t":754,"v":33.13},{"s":"D","t":760,"v":33.01},{"s":"D","t":765,"v":32.92},{"s":"D","t":770,"v":33.10},{"s":"D","t":776,"v":33.13},{"s":"D","t":781,"v":33.29},{"s":"D","t":786,"v":33.38},{"s":"D","t":791,"v":33.50},{"s":"D","t":797,"v":33.78},{"s":"D","t":802,"v":33.50},{"s":"D","t":807,"v":33.16},{"s":"D","t":813,"v":33.22},{"s":"D","t":818,"v":33.13},{"s":"D","t":823,"v":33.04},{"s":"D","t":829,"v":33.35},{"s":"D","t":834,"v":33.26},{"s":"D","t":839,"v":33.32},{"s":"D","t":844,"v":33.13},{"s":"D","t":850,"v":33.07},{"s":"D","t":855,"v":33.10},{"s":"D","t":860,"v":33.01},{"s":"D","t":866,"v":33.07},{"s":"D","t":871,"v":32.95},{"s":"D","t":876,"v":33.07},{"s":"D","t":881,"v":33.13},{"s":"D","t":887,"v":33.04},{"s":"D","t":892,"v":33.10},{"s":"D","t":897,"v":33.13},{"s":"D","t":903,"v":33.19},{"s":"D","t":908,"v":33.07},{"s":"D","t":913,"v":33.16},{"s":"D","t":918,"v":33.22},{"s":"D","t":924,"v":33.13},{"s":"D","t":929,"v":33.07},{"s":"D","t":934,"v":32.98},{"s":"D","t":940,"v":32.92},{"s":"D","t":945,"v":32.82},{"s":"D","t":950,"v":32.92},{"s":"D","t":955,"v":33.07},{"s":"D","t":961,"v":33.19},{"s":"D","t":966,"v":33.29},{"s":"D","t":971,"v":33.32},{"s":"D","t":977,"v":33.35},{"s":"D","t":982,"v":33.32},{"s":"D","t":987,"v":33.13},{"s":"D","t":993,"v":32.86},{"s":"D","t":998,"v":32.70},{"s":"D","t":1003,"v":32.67},{"s":"D","t":1008,"v":32.61},{"s":"D","t":1014,"v":32.52},{"s":"D","t":1019,"v":32.49},{"s":"D","t":1024,"v":32.64},{"s":"D","t":1030,"v":32.76},{"s":"D","t":1035,"v":33.01},{"s":"D","t":1040,"v":33.16},{"s":"D","t":1045,"v":33.41},{"s":"D","t":1051,"v":33.32},{"s":"D","t":1056,"v":33.07},{"s":"D","t":1061,"v":32.86},{"s":"D","t":1067,"v":32.70},{"s":"D","t":1072,"v":32.76},{"s":"D","t":1077,"v":32.58},{"s":"D","t":1082,"v":32.67},{"s":"D","t":1088,"v":32.86},{"s":"D","t":1093,"v":32.95},{"s":"D","t":1098,"v":32.98},{"s":"D","t":1104,"v":32.82},{"s":"D","t":1109,"v":32.76},{"s":"D","t":1114,"v":32.89},{"s":"D","t":1119,"v":32.95},{"s":"D","t":1125,"v":32.89},{"s":"D","t":1130,"v":32.76},{"s":"D","t":1135,"v":32.70},{"s":"D","t":1141,"v":32.55},{"s":"D","t":1146,"v":32.70},{"s":"D","t":1151,"v":32.76},{"s":"D","t":1157,"v":32.64},{"s":"D","t":1162,"v":32.61},{"s":"D","t":1167,"v":32.64}
]},
"spacing":103,
"resolve":{"scale":{"color":"shared"}},
"hconcat":[
{"width":377,"height":245,
"title":{"text":"a","anchor":"start","frame":"bounds","font":"Liberation Sans","fontSize":19,"fontWeight":"bold","color":"#000","dx":-14,"dy":20,"offset":0},
"data":{"name":"rmsd"},
"mark":{"type":"line","strokeWidth":1.8,"clip":true},
"encoding":{
"x":{"field":"t","type":"quantitative","scale":{"domain":[0,1200],"nice":false,"zero":false},"axis":{"values":[0,200,400,600,800,1000,1200],"format":"d","title":"time / ns","titlePadding":1}},
"y":{"field":"v","type":"quantitative","scale":{"domain":[1.42,5.38],"nice":false,"zero":false},"axis":{"values":[1.5,2.0,2.5,3.0,3.5,4.0,4.5,5.0],"format":".1f","title":"RMSD / Å","titlePadding":5}},
"color":{"field":"s","type":"nominal","scale":{"domain":["T3","T4","D"],"range":["#377eb8","#e41a1c","#4daf4a"]},
"legend":{"orient":"none","legendX":287,"legendY":-80,"direction":"vertical","title":null,"symbolType":"M-1.2,0H2.8","symbolSize":144,"symbolStrokeWidth":2,"labelFontSize":13.5,"labelFont":"DejaVu Sans","labelColor":"#222","labelLimit":0,"strokeColor":"#cccccc","cornerRadius":3,"padding":6,"rowPadding":1,"labelOffset":18,"fillColor":"#ffffff",
"labelExpr":"datum.label == 'T3' ? 'AMBER99SB*-ILDN-q with TIP3P water' : datum.label == 'T4' ? 'AMBER99SB*-ILDN-q with TIP4PD water' : 'a99SB-disp with a99SB-disp water'"}}}},
{"width":378,"height":245,
"title":{"text":"b","anchor":"start","frame":"bounds","font":"Liberation Sans","fontSize":19,"fontWeight":"bold","color":"#000","dx":-21,"dy":20,"offset":0},
"data":{"name":"rg"},
"mark":{"type":"line","strokeWidth":1.8,"clip":true},
"encoding":{
"x":{"field":"t","type":"quantitative","scale":{"domain":[0,1200],"nice":false,"zero":false},"axis":{"values":[0,200,400,600,800,1000,1200],"format":"d","title":"time / ns","titlePadding":1}},
"y":{"field":"v","type":"quantitative","scale":{"domain":[31.9,34.2],"nice":false,"zero":false},"axis":{"values":[32.0,32.5,33.0,33.5,34.0],"format":".1f","title":"radius of gyration / Å","titlePadding":5}},
"color":{"field":"s","type":"nominal","scale":{"domain":["T3","T4","D"],"range":["#377eb8","#e41a1c","#4daf4a"]}}}}
]
}
